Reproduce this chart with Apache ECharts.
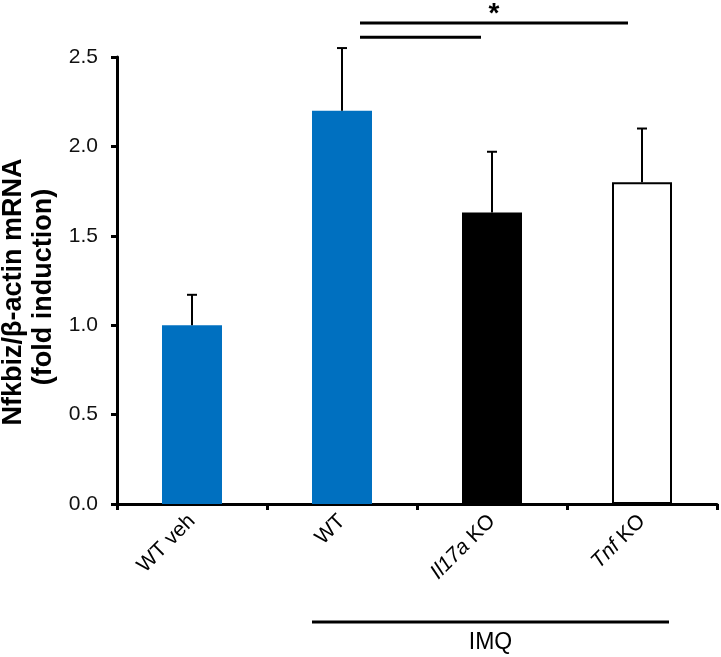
<!DOCTYPE html>
<html><head><meta charset="utf-8">
<script src="https://cdn.jsdelivr.net/npm/echarts@6/dist/echarts.min.js"></script>
<style>html,body{margin:0;padding:0;background:#fff}#c{width:721px;height:657px}</style>
</head><body><div id="c"></div>
<script>
const categories = ['WT veh', 'WT', 'Il17a KO', 'Tnf KO'];
const italicPart = ['', '', 'Il17a', 'Tnf'];
const means = [1.0, 2.2, 1.63, 1.8];
const errors = [0.17, 0.35, 0.34, 0.30];
const barColors = ['#0070C0', '#0070C0', '#000000', '#FFFFFF'];
const yTicks = [0.0, 0.5, 1.0, 1.5, 2.0, 2.5];
const yTitle = ['Nfkbiz/β-actin mRNA', '(fold induction)'];
const groupLabel = 'IMQ';
const sigMark = '*';

const FONT = '"Liberation Sans", Arial, sans-serif';
const chart = echarts.init(document.getElementById('c'), null, {renderer: 'canvas'});

const option = {
  animation: false,
  backgroundColor: '#fff',
  grid: {left: 117, right: 4, top: 57, bottom: 153, containLabel: false},
  xAxis: {
    type: 'category',
    data: categories,
    boundaryGap: true,
    axisLine: {lineStyle: {color: '#000', width: 3}},
    axisTick: {show: true, length: 6, inside: false, lineStyle: {color: '#000', width: 3}},
    axisLabel: {
      rotate: 45, margin: 14, color: '#000', fontFamily: FONT, fontSize: 21,
      formatter: function (v, i) {
        const it = italicPart[i];
        if (it) return '{i|' + it + '}' + v.slice(it.length);
        return v;
      },
      rich: {i: {fontStyle: 'italic', fontFamily: FONT, fontSize: 21, color: '#000'}}
    },
    splitLine: {show: false}
  },
  yAxis: {
    type: 'value', min: 0, max: 2.5, interval: 0.5,
    axisLine: {show: true, lineStyle: {color: '#000', width: 3}},
    axisTick: {show: true, length: 6, lineStyle: {color: '#000', width: 3}},
    axisLabel: {color: '#111', fontFamily: FONT, fontSize: 21, margin: 19,
      formatter: v => yTicks.includes(v) ? v.toFixed(1) : ''},
    splitLine: {show: false}
  },
  series: [
    {
      type: 'bar', barWidth: 60,
      data: means.map((m, i) => ({
        value: m,
        itemStyle: {color: barColors[i], borderColor: i === 3 ? '#000' : barColors[i], borderWidth: i === 3 ? 2 : 0}
      })),
      z: 2
    },
    {
      type: 'custom',
      data: means.map((m, i) => [i, m, m + errors[i]]),
      renderItem: function (params, api) {
        const x = api.coord([api.value(0), api.value(1)]);
        const top = api.coord([api.value(0), api.value(2)]);
        return {
          type: 'group',
          children: [
            {type: 'line', shape: {x1: x[0], y1: x[1], x2: top[0], y2: top[1]}, style: {stroke: '#000', lineWidth: 2}},
            {type: 'line', shape: {x1: top[0] - 5, y1: top[1], x2: top[0] + 5, y2: top[1]}, style: {stroke: '#000', lineWidth: 2}}
          ]
        };
      },
      z: 3
    }
  ]
};
chart.setOption(option);

// annotations positioned from the axes
const px = (i, v) => chart.convertToPixel({gridIndex: 0}, [i, v]);
const wt = px(1, 2.69), il = px(2, 2.61), tnf = px(3, 2.69);
const yLong = wt[1], yShort = px(1, 2.61)[1];
const x0 = wt[0] + 18;
const xShortEnd = il[0] - 11;
const xLongEnd = tnf[0] - 14;
const base = px(0, 0);
const imqY = base[1] + 118;
const imqX1 = px(1, 0)[0] - 30, imqX2 = px(3, 0)[0] + 27;

chart.setOption({
  graphic: [
    {type: 'line', shape: {x1: x0, y1: yLong, x2: xLongEnd, y2: yLong}, style: {stroke: '#000', lineWidth: 3}},
    {type: 'line', shape: {x1: x0, y1: yShort, x2: xShortEnd, y2: yShort}, style: {stroke: '#000', lineWidth: 3}},
    {type: 'text', x: (x0 + xLongEnd) / 2, y: 0, style: {text: sigMark, font: 'bold 28px ' + FONT, fill: '#000', textAlign: 'center', textVerticalAlign: 'top'}},
    {type: 'line', shape: {x1: imqX1, y1: imqY, x2: imqX2, y2: imqY}, style: {stroke: '#000', lineWidth: 3}},
    {type: 'text', x: (imqX1 + imqX2) / 2, y: imqY + 9, style: {text: groupLabel, font: '23px ' + FONT, fill: '#000', textAlign: 'center', textVerticalAlign: 'top'}},
    {type: 'text', x: 14, y: 292, rotation: Math.PI / 2, style: {text: yTitle[0], font: 'bold 27px ' + FONT, fill: '#000', textAlign: 'center', textVerticalAlign: 'middle'}},
    {type: 'text', x: 44, y: 287, rotation: Math.PI / 2, style: {text: yTitle[1], font: 'bold 27px ' + FONT, fill: '#000', textAlign: 'center', textVerticalAlign: 'middle'}}
  ]
});
</script></body></html>
